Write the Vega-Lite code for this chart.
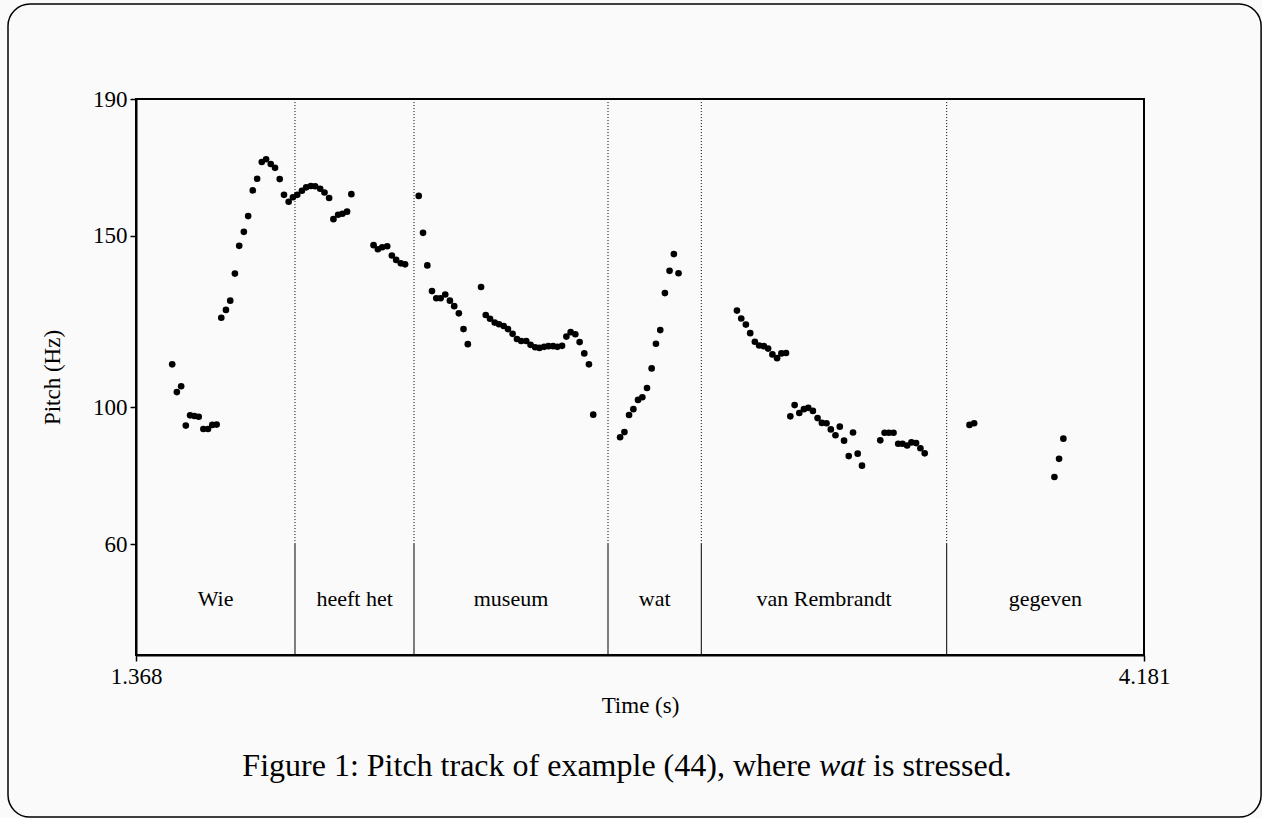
{
  "$schema": "https://vega.github.io/schema/vega-lite/v6.json",
  "width": 1008,
  "height": 556,
  "autosize": {"type": "none"},
  "padding": {"left": 136, "top": 99, "right": 118, "bottom": 163},
  "background": "#fafafa",
  "config": {
    "font": "Liberation Serif",
    "view": {"stroke": "black", "strokeWidth": 2, "fill": "#fafafa"},
    "axis": {
      "domainColor": "black", "domainWidth": 2, "tickColor": "black", "tickWidth": 1.5, "tickSize": 6,
      "labelFont": "Liberation Serif", "labelFontSize": 23, "labelColor": "black",
      "titleFont": "Liberation Serif", "titleFontSize": 23, "titleFontWeight": "normal", "titleColor": "black",
      "grid": false
    }
  },
  "datasets": {
    "frame": [{"x0": 1.0108, "x1": 4.5078, "y0": 217.76, "y1": -19.75}],
    "pitch": [
      {"t":1.469,"f":112.5},{"t":1.482,"f":104.4},{"t":1.494,"f":106.1},{"t":1.507,"f":94.6},{"t":1.519,"f":97.6},
      {"t":1.531,"f":97.4},{"t":1.543,"f":97.2},{"t":1.556,"f":93.6},{"t":1.569,"f":93.6},{"t":1.581,"f":94.8},
      {"t":1.593,"f":94.9},{"t":1.606,"f":126.1},{"t":1.619,"f":128.4},{"t":1.631,"f":131.1},{"t":1.644,"f":139.0},
      {"t":1.656,"f":147.1},{"t":1.669,"f":151.2},{"t":1.681,"f":155.8},{"t":1.694,"f":163.3},{"t":1.706,"f":166.7},
      {"t":1.719,"f":171.6},{"t":1.731,"f":172.4},{"t":1.744,"f":171.0},{"t":1.756,"f":169.9},{"t":1.769,"f":166.6},
      {"t":1.781,"f":162.0},{"t":1.794,"f":160.0},{"t":1.806,"f":161.3},{"t":1.818,"f":162.0},{"t":1.831,"f":163.2},
      {"t":1.843,"f":164.2},{"t":1.856,"f":164.6},{"t":1.868,"f":164.5},{"t":1.882,"f":163.8},{"t":1.894,"f":162.7},
      {"t":1.907,"f":161.1},{"t":1.919,"f":154.9},{"t":1.932,"f":156.2},{"t":1.944,"f":156.5},{"t":1.957,"f":157.1},
      {"t":1.969,"f":162.2},{"t":2.031,"f":147.3},{"t":2.043,"f":146.1},{"t":2.055,"f":146.7},{"t":2.069,"f":147.0},
      {"t":2.082,"f":144.3},{"t":2.094,"f":143.0},{"t":2.107,"f":142.0},{"t":2.119,"f":141.7},{"t":2.157,"f":161.7},
      {"t":2.169,"f":150.9},{"t":2.181,"f":141.4},{"t":2.194,"f":133.9},{"t":2.206,"f":131.8},{"t":2.218,"f":131.8},
      {"t":2.231,"f":132.9},{"t":2.244,"f":131.1},{"t":2.256,"f":129.5},{"t":2.269,"f":127.4},{"t":2.282,"f":122.8},
      {"t":2.294,"f":118.4},{"t":2.331,"f":135.1},{"t":2.344,"f":126.9},{"t":2.356,"f":125.8},{"t":2.369,"f":124.7},
      {"t":2.381,"f":124.2},{"t":2.394,"f":123.7},{"t":2.406,"f":122.8},{"t":2.419,"f":121.4},{"t":2.431,"f":119.9},
      {"t":2.443,"f":119.3},{"t":2.457,"f":119.3},{"t":2.469,"f":118.2},{"t":2.482,"f":117.5},{"t":2.494,"f":117.3},
      {"t":2.507,"f":117.6},{"t":2.519,"f":117.8},{"t":2.532,"f":117.8},{"t":2.544,"f":117.6},{"t":2.557,"f":117.9},
      {"t":2.569,"f":120.6},{"t":2.581,"f":121.9},{"t":2.594,"f":121.3},{"t":2.606,"f":119.0},{"t":2.619,"f":115.7},
      {"t":2.632,"f":112.5},{"t":2.644,"f":97.8},
      {"t":2.719,"f":91.2},{"t":2.731,"f":92.7},{"t":2.744,"f":97.7},{"t":2.756,"f":99.4},{"t":2.769,"f":102.1},
      {"t":2.781,"f":102.9},{"t":2.794,"f":105.6},{"t":2.807,"f":111.3},{"t":2.819,"f":118.5},{"t":2.831,"f":122.5},
      {"t":2.844,"f":133.3},{"t":2.857,"f":139.8},{"t":2.869,"f":144.7},{"t":2.882,"f":139.1},
      {"t":3.045,"f":128.2},{"t":3.057,"f":125.9},{"t":3.070,"f":124.1},{"t":3.082,"f":121.6},{"t":3.095,"f":119.1},
      {"t":3.107,"f":118.0},{"t":3.120,"f":117.8},{"t":3.132,"f":117.1},{"t":3.144,"f":115.4},{"t":3.157,"f":114.3},
      {"t":3.169,"f":115.7},{"t":3.182,"f":115.8},{"t":3.194,"f":97.3},{"t":3.206,"f":100.6},{"t":3.219,"f":98.3},
      {"t":3.232,"f":99.4},{"t":3.244,"f":99.8},{"t":3.257,"f":98.9},{"t":3.270,"f":96.8},{"t":3.282,"f":95.4},
      {"t":3.295,"f":95.3},{"t":3.307,"f":93.5},{"t":3.320,"f":91.8},{"t":3.332,"f":94.3},{"t":3.344,"f":90.2},
      {"t":3.357,"f":85.7},{"t":3.369,"f":92.6},{"t":3.382,"f":86.4},{"t":3.394,"f":82.9},{"t":3.445,"f":90.3},
      {"t":3.457,"f":92.5},{"t":3.469,"f":92.5},{"t":3.482,"f":92.5},{"t":3.495,"f":89.3},{"t":3.507,"f":89.3},
      {"t":3.520,"f":88.8},{"t":3.532,"f":89.7},{"t":3.545,"f":89.5},{"t":3.557,"f":88.0},{"t":3.569,"f":86.5},
      {"t":3.694,"f":94.8},{"t":3.707,"f":95.3},{"t":3.931,"f":79.6},{"t":3.944,"f":84.9},{"t":3.956,"f":90.8}
    ],
    "tiers": [
      {"start":1.368,"end":1.8117,"mid":1.590,"label":"Wie"},
      {"start":1.8117,"end":2.1438,"mid":1.978,"label":"heeft het"},
      {"start":2.1438,"end":2.6852,"mid":2.4145,"label":"museum"},
      {"start":2.6852,"end":2.9456,"mid":2.8154,"label":"wat"},
      {"start":2.9456,"end":3.6304,"mid":3.288,"label":"van Rembrandt"},
      {"start":3.6304,"end":4.181,"mid":3.9057,"label":"gegeven"}
    ],
    "bounds": [{"t":1.8117},{"t":2.1438},{"t":2.6852},{"t":2.9456},{"t":3.6304}],
    "caption": [
      {"part":"left","text":"Figure 1: Pitch track of example (44), where"},
      {"part":"mid","text":"wat"},
      {"part":"right","text":"is stressed."}
    ]
  },
  "layer": [
    {
      "data": {"name": "frame"},
      "mark": {"type": "rect", "filled": false, "color": "black", "strokeWidth": 1.5, "cornerRadius": 22},
      "encoding": {
        "x": {"field": "x0", "type": "quantitative", "scale": {"domain": [1.368, 4.181], "nice": false, "zero": false}},
        "x2": {"field": "x1"},
        "y": {"field": "y0", "type": "quantitative", "scale": {"domain": [27.6, 190], "nice": false, "zero": false}},
        "y2": {"field": "y1"}
      }
    },
    {
      "mark": {"type": "rule", "color": "black", "strokeWidth": 1},
      "encoding": {"y": {"datum": 60, "type": "quantitative"}}
    },
    {
      "data": {"name": "bounds"},
      "mark": {"type": "rule", "color": "black", "strokeWidth": 1, "strokeDash": [1, 2]},
      "encoding": {
        "x": {"field": "t", "type": "quantitative"},
        "y": {"datum": 60, "type": "quantitative"},
        "y2": {"datum": 190}
      }
    },
    {
      "data": {"name": "bounds"},
      "mark": {"type": "rule", "color": "black", "strokeWidth": 1},
      "encoding": {
        "x": {"field": "t", "type": "quantitative"},
        "y": {"datum": 27.6, "type": "quantitative"},
        "y2": {"datum": 60}
      }
    },
    {
      "data": {"name": "pitch"},
      "mark": {"type": "circle", "size": 44, "color": "black", "opacity": 1},
      "encoding": {
        "x": {"field": "t", "type": "quantitative",
              "axis": {"values": [1.368, 4.181], "format": ".3f", "title": "Time (s)", "labelPadding": 4, "titlePadding": 6, "labelFlush": false}},
        "y": {"field": "f", "type": "quantitative",
              "axis": {"values": [60, 100, 150, 190], "title": "Pitch (Hz)", "labelPadding": 3, "titlePadding": 28}}
      }
    },
    {
      "data": {"name": "tiers"},
      "mark": {"type": "text", "fontSize": 22, "font": "Liberation Serif", "color": "black", "baseline": "alphabetic", "align": "center"},
      "encoding": {
        "x": {"field": "mid", "type": "quantitative"},
        "y": {"datum": 41.9, "type": "quantitative"},
        "text": {"field": "label"}
      }
    },
    {
      "data": {"name": "caption"},
      "transform": [{"filter": "datum.part == 'left'"}],
      "mark": {"type": "text", "fontSize": 32, "font": "Liberation Serif", "color": "black", "baseline": "alphabetic", "align": "right", "dx": -31},
      "encoding": {
        "x": {"datum": 3.3384, "type": "quantitative"},
        "y": {"datum": -7.78, "type": "quantitative"},
        "text": {"field": "text"}
      }
    },
    {
      "data": {"name": "caption"},
      "transform": [{"filter": "datum.part == 'mid'"}],
      "mark": {"type": "text", "fontSize": 32, "font": "Liberation Serif", "fontStyle": "italic", "color": "black", "baseline": "alphabetic", "align": "center"},
      "encoding": {
        "x": {"datum": 3.3384, "type": "quantitative"},
        "y": {"datum": -7.78, "type": "quantitative"},
        "text": {"field": "text"}
      }
    },
    {
      "data": {"name": "caption"},
      "transform": [{"filter": "datum.part == 'right'"}],
      "mark": {"type": "text", "fontSize": 32, "font": "Liberation Serif", "color": "black", "baseline": "alphabetic", "align": "left", "dx": 31},
      "encoding": {
        "x": {"datum": 3.3384, "type": "quantitative"},
        "y": {"datum": -7.78, "type": "quantitative"},
        "text": {"field": "text"}
      }
    }
  ]
}
